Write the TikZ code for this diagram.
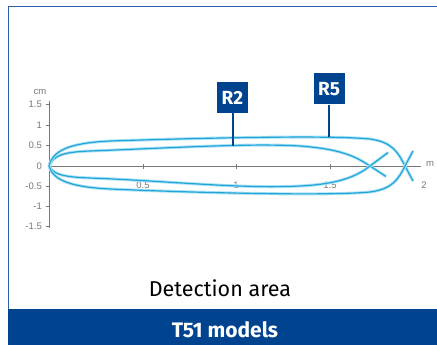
\documentclass[tikz,border=0pt]{standalone}
\usepackage{fontspec}
\setmainfont{Fira Sans}
\newfontfamily\axisfont{Liberation Sans}
\usepackage{tikz}
\definecolor{BarBlue}{RGB}{0,67,143}
\definecolor{FrameBlue}{RGB}{45,95,170}
\definecolor{BeamBlue}{RGB}{35,165,215}
\definecolor{BeamGlow}{RGB}{170,226,246}
\definecolor{AxisGray}{RGB}{120,120,120}

\tikzset{
  beam/.style={BeamBlue,line width=1.2pt,preaction={draw=BeamGlow,line width=3pt}},
  tag/.style={fill=BarBlue,text=white,font=\fontsize{19}{19}\selectfont\bfseries,minimum width=31pt,minimum height=31pt,inner sep=0pt},
  leader/.style={BarBlue,line width=2pt},
  axis/.style={AxisGray,line width=0.9pt},
  ylab/.style={anchor=east,text=AxisGray,font=\axisfont\fontsize{9.5}{9.5}\selectfont,inner sep=0pt},
  xlab/.style={text=AxisGray,font=\axisfont\fontsize{9.5}{9.5}\selectfont,inner sep=0pt}
}

\begin{document}
\begin{tikzpicture}[x=1pt,y=-1pt]

\useasboundingbox (0,0) rectangle (437,345);
\fill[white] (0,0) rectangle (437,345);

% frame and footer
\draw[FrameBlue,line width=1.6pt] (8.5,310) -- (8.5,6.5) -- (437,6.5);
\fill[BarBlue] (8,309) rectangle (437,345);

\node (det) [anchor=base,font=\fontsize{21.5}{22}\selectfont] at (220,296) {Detection area};
\node (model) [anchor=base,text=white,font=\fontsize{21}{22}\selectfont\bfseries] at (225,337) {T51 models};

% axes
\coordinate (o) at (49,166);
\coordinate (xend) at (421,166);
\draw[axis] (49,101) -- (49,228);
\draw[axis] (o) -- (xend);
\draw[axis] (45.5,104) -- (49,104) (45.5,125) -- (49,125) (45.5,145) -- (49,145) (45.5,186) -- (49,186) (45.5,206) -- (49,206) (45.5,226) -- (49,226);
\draw[axis] (143,164) -- (143,169) (236,164) -- (236,169) (330,164) -- (330,169);

\node (cm) [xlab] at (40,92) {cm};
\node (y1) [ylab] at (42,104) {1.5};
\node (y2) [ylab] at (42,125) {1};
\node (y3) [ylab] at (42,145) {0.5};
\node (y4) [ylab] at (42,166) {0};
\node (y5) [ylab] at (42,186) {-0.5};
\node (y6) [ylab] at (42,206) {-1};
\node (y7) [ylab] at (42,226) {-1.5};

\node (x1) [xlab] at (143,185) {0.5};
\node (x2) [xlab] at (236,185) {1};
\node (x3) [xlab] at (330,185) {1.5};
\node (x4) [xlab] at (424,185) {2};
\node (m) [xlab] at (430,164) {m};

% detection lobes
\draw[beam] (o) .. controls (53,156) and (62,152) .. (90,151) .. controls (170,148) and (250,143) .. (300,146) .. controls (340,149) and (355,156) .. (370,166) -- (386,176.5);
\draw[beam] (o) .. controls (53,174) and (62,177) .. (90,178) .. controls (170,181) and (240,189) .. (300,186) .. controls (340,184) and (357,176) .. (370,166) -- (388,152.5);
\draw[beam] (o) .. controls (53,150) and (70,143) .. (110,141) .. controls (200,138) and (330,135) .. (370,139) .. controls (392,142) and (398,152) .. (405,166) -- (413,181);
\draw[beam] (o) .. controls (53,180) and (70,187) .. (110,189) .. controls (200,193) and (330,196) .. (370,192) .. controls (392,189) and (398,180) .. (405,166) -- (413,151);

% range tags
\node (r2) [tag] at (232.5,97.5) {R2};
\node (r5) [tag] at (329,89) {R5};
\coordinate (r2hit) at (232.5,146);
\coordinate (r5hit) at (329,137.5);
\draw[leader] (r2) -- (r2hit);
\draw[leader] (r5) -- (r5hit);

\end{tikzpicture}
\end{document}
